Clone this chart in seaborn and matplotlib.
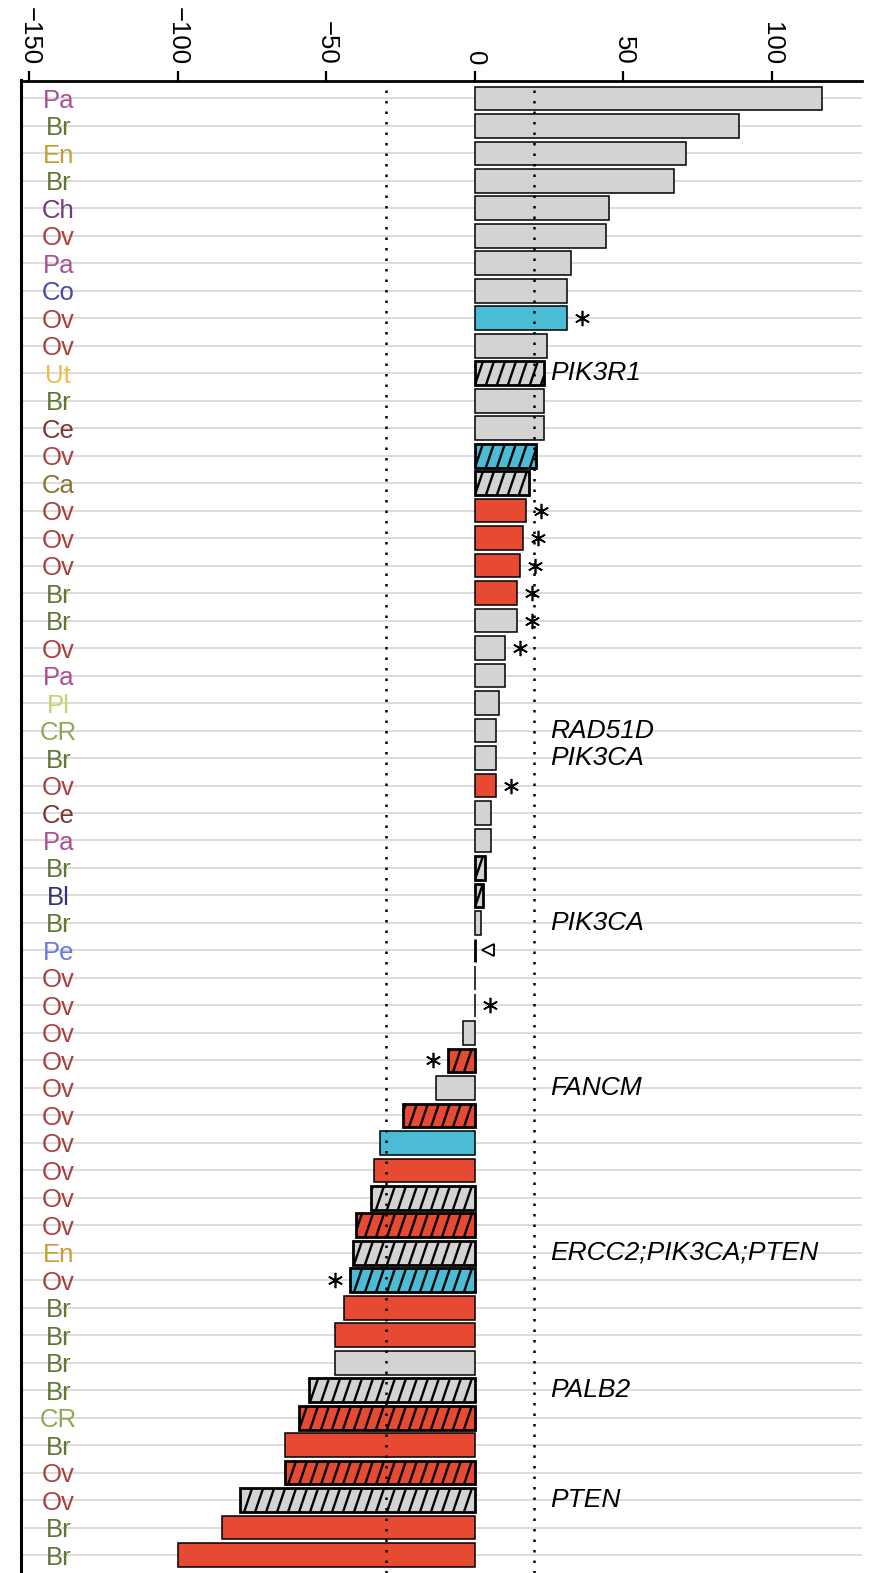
import numpy as np
import pandas as pd
import matplotlib
matplotlib.use("Agg")
import matplotlib.pyplot as plt
from matplotlib.collections import LineCollection
import seaborn as sns

# ---- data -------------------------------------------------------------
cancer_types = [
    "Pa", "Br", "En", "Br", "Ch", "Ov", "Pa", "Co", "Ov", "Ov",
    "Ut", "Br", "Ce", "Ov", "Ca", "Ov", "Ov", "Ov", "Br", "Br",
    "Ov", "Pa", "Pl", "CR", "Br", "Ov", "Ce", "Pa", "Br", "Bl",
    "Br", "Pe", "Ov", "Ov", "Ov", "Ov", "Ov", "Ov", "Ov", "Ov",
    "Ov", "Ov", "En", "Ov", "Br", "Br", "Br", "Br", "CR", "Br",
    "Ov", "Ov", "Br", "Br",
]

pct_change = [
    117.0, 89.0, 71.0, 67.0, 45.0, 44.0, 32.3, 31.0, 31.0, 24.2,
    23.2, 23.2, 23.2, 20.4, 18.3, 17.3, 16.3, 15.3, 14.3, 14.3,
    10.2, 10.2, 8.2, 7.0, 7.0, 7.0, 5.3, 5.3, 3.4, 2.6,
    2.1, 0.0, 0.0, 0.0, -3.9, -9.0, -13.0, -24.1, -32.0, -34.0,
    -35.0, -40.0, -41.2, -42.0, -44.0, -47.0, -47.0, -56.0, -59.3, -64.0,
    -64.0, -79.1, -85.0, -100.0,
]

# bar fill group: G = grey, B = cyan, R = red
bar_group = [
    "G", "G", "G", "G", "G", "G", "G", "G", "B", "G",
    "G", "G", "G", "B", "G", "R", "R", "R", "R", "G",
    "G", "G", "G", "G", "G", "R", "G", "G", "G", "G",
    "G", "G", "G", "G", "G", "R", "G", "R", "B", "R",
    "G", "R", "G", "B", "R", "R", "G", "G", "R", "R",
    "R", "G", "R", "R",
]

hatched = [
    0, 0, 0, 0, 0, 0, 0, 0, 0, 0,
    1, 0, 0, 1, 1, 0, 0, 0, 0, 0,
    0, 0, 0, 0, 0, 0, 0, 0, 1, 1,
    0, 1, 0, 0, 0, 1, 0, 1, 0, 0,
    1, 1, 1, 1, 0, 0, 0, 1, 1, 0,
    1, 1, 0, 0,
]

# "*" = asterisk beyond bar end, "<" = open triangle
flags = [
    "", "", "", "", "", "", "", "", "*", "",
    "", "", "", "", "", "*", "*", "*", "*", "*",
    "*", "", "", "", "", "*", "", "", "", "",
    "", "<", "", "*", "", "*", "", "", "", "",
    "", "", "", "*", "", "", "", "", "", "",
    "", "", "", "",
]

gene_labels = [
    "", "", "", "", "", "", "", "", "", "",
    "PIK3R1", "", "", "", "", "", "", "", "", "",
    "", "", "", "RAD51D", "PIK3CA", "", "", "", "", "",
    "PIK3CA", "", "", "", "", "", "FANCM", "", "", "",
    "", "", "ERCC2;PIK3CA;PTEN", "", "", "", "", "PALB2", "", "",
    "", "PTEN", "", "",
]

x_ticks = [-150, -100, -50, 0, 50, 100]
thresholds = [-30, 20]

type_colors = {
    "Pa": "#A85096", "Br": "#5E7834", "En": "#C4A032", "Ch": "#6E3C78",
    "Ov": "#AA4141", "Co": "#464BA5", "Ut": "#ECBE46", "Ce": "#7D3732",
    "Ca": "#8C7332", "Pl": "#BED76E", "CR": "#8CAA55", "Bl": "#323278",
    "Pe": "#6978DC",
}
group_colors = {"G": "#D3D3D3", "B": "#4BBCD6", "R": "#E64A33"}

# ---- figure -----------------------------------------------------------
sns.set_style("white")
plt.rcParams["font.family"] = ["Liberation Sans", "DejaVu Sans"]
plt.rcParams["text.color"] = "black"
plt.rcParams["xtick.color"] = "black"
plt.rcParams["xtick.labelcolor"] = "black"
plt.rcParams["axes.edgecolor"] = "black"

n = len(pct_change)
rows = [f"s{i:02d}" for i in range(n)]
df = pd.DataFrame({"row": rows, "change": pct_change, "group": bar_group})

fig = plt.figure(figsize=(8.73, 15.73), dpi=100)
ax = fig.add_axes([21 / 873, 0.0, 841 / 873, 1 - 80.5 / 1573])

sns.barplot(
    data=df, x="change", y="row", hue="row", order=rows, hue_order=rows,
    palette=[group_colors[g] for g in bar_group], saturation=1,
    orient="h", width=0.86, errorbar=None, legend=False,
    edgecolor="black", linewidth=1.1, ax=ax, zorder=3,
)

bar_h = 0.86
hatch_step = 3.7   # spacing of hatch strokes along x (data units)
hatch_lean = 2.7   # x shift of a stroke across the bar thickness

for p in ax.patches:
    i = int(round(p.get_y() + p.get_height() / 2))
    if hatched[i]:
        p.set_linewidth(2.0)
        x0, w = p.get_x(), p.get_width()
        xl, xr = min(x0, x0 + w), max(x0, x0 + w)
        if xr - xl <= 0:
            continue
        yb, yt = i + bar_h / 2, i - bar_h / 2
        start = np.floor((xl - hatch_lean) / hatch_step) * hatch_step
        xs = np.arange(start, xr + hatch_step, hatch_step)
        segs = [[(x, yb), (x + hatch_lean, yt)] for x in xs]
        lc = LineCollection(segs, colors="black", linewidths=1.7, zorder=4)
        ax.add_collection(lc)
        lc.set_clip_path(p)

# markers next to bar ends
for i, (v, f) in enumerate(zip(pct_change, flags)):
    if f == "*":
        xm = v + (5.0 if v >= 0 else -5.0)
        ax.plot(xm, i, marker=(6, 2, 0), ms=11, mew=1.2, color="black",
                zorder=6, clip_on=False)
    elif f == "<":
        ax.plot(v + 4.4, i, marker="<", ms=8.5, mfc="white", mec="black",
                mew=1.3, zorder=6)

# gene annotations
for i, g in enumerate(gene_labels):
    if g:
        ax.text(25.5, i, g, style="italic", fontsize=19, ha="left",
                va="center", color="black", zorder=6)

# threshold lines
for t in thresholds:
    ax.axvline(t, color="black", ls=(0, (1, 3.2)), lw=1.8, zorder=5)

# axes cosmetics
ax.set_xlim(-152.8, 130.3)
ax.set_ylim(n - 1 + 0.65, -0.65)
ax.xaxis.tick_top()
ax.set_xticks(x_ticks)
ax.tick_params(axis="x", labelrotation=-90, length=7, width=1.6,
               labelsize=18.5, pad=4, color="black", labelcolor="black")
ax.set_yticks(range(n))
ax.set_yticklabels(cancer_types)
ax.tick_params(axis="y", length=0, pad=-26.8, labelsize=18.5)
for lbl, t in zip(ax.get_yticklabels(), cancer_types):
    lbl.set_color(type_colors[t])
    lbl.set_ha("center")

ax.grid(axis="y", color="#D6D6D6", lw=1.2, zorder=0)
ax.grid(axis="x", visible=False)
ax.set_axisbelow(True)
ax.set_xlabel("")
ax.set_ylabel("")

ax.spines["right"].set_visible(False)
ax.spines["bottom"].set_visible(False)
ax.spines["left"].set_linewidth(2.2)
ax.spines["top"].set_linewidth(2.0)
ax.spines["left"].set_color("black")
ax.spines["top"].set_color("black")

fig.savefig("out.png", dpi=100)
